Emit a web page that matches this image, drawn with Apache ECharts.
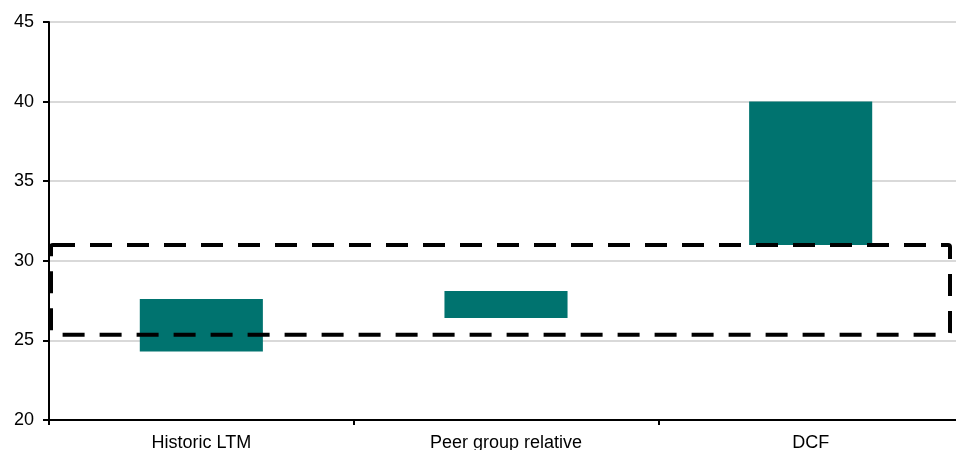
<!DOCTYPE html>
<html>
<head>
<meta charset="utf-8">
<script src="https://cdn.jsdelivr.net/npm/echarts@6/dist/echarts.min.js"></script>
<style>
  html, body { margin: 0; padding: 0; background: #ffffff; }
  #chart { width: 956px; height: 450px; }
</style>
</head>
<body>
<div id="chart"></div>
<script>
// Valuation methods and their implied ranges
const categories = ['Historic LTM', 'Peer group relative', 'DCF'];
const rangeLow = [24.3, 26.4, 31.0];
const rangeHigh = [27.6, 28.1, 40.0];
// Target range shown as the dashed box
const targetLow = 25.35;
const targetHigh = 31.0;
const yTicks = [20, 25, 30, 35, 40, 45];

const barColor = '#00736f';
const rangeSize = rangeHigh.map((h, i) => +(h - rangeLow[i]).toFixed(3));
const labelFont = 'Liberation Sans, Arial, sans-serif';

const chart = echarts.init(document.getElementById('chart'), null, { renderer: 'canvas' });

chart.setOption({
  animation: false,
  backgroundColor: '#ffffff',
  grid: { left: 49, top: 22, bottom: 30, right: -7, containLabel: false, outerBoundsMode: 'none' },
  xAxis: {
    type: 'category',
    data: categories,
    boundaryGap: true,
    axisLine: { lineStyle: { color: '#000000', width: 2 } },
    axisTick: { show: true, length: 5, lineStyle: { color: '#000000', width: 2 } },
    axisLabel: { color: '#000000', fontFamily: labelFont, fontSize: 18, margin: 14 },
    splitLine: { show: false }
  },
  yAxis: {
    type: 'value',
    min: yTicks[0],
    max: yTicks[yTicks.length - 1],
    interval: 5,
    axisLine: { show: true, lineStyle: { color: '#000000', width: 2 } },
    axisTick: { show: true, length: 6, lineStyle: { color: '#000000', width: 2 } },
    axisLabel: { color: '#000000', fontFamily: labelFont, fontSize: 18, margin: 15 },
    splitLine: { show: true, lineStyle: { color: '#d9d9d9', width: 2 } }
  },
  series: [
    {
      name: 'base',
      type: 'bar',
      stack: 'range',
      data: rangeLow,
      barWidth: '40.4%',
      itemStyle: { color: 'transparent' },
      silent: true
    },
    {
      name: 'range',
      type: 'bar',
      stack: 'range',
      data: rangeSize,
      barWidth: '40.4%',
      itemStyle: { color: barColor }
    },
    {
      name: 'target',
      type: 'custom',
      z: 10,
      data: [[0, targetLow, targetHigh]],
      encode: { x: 0, y: [1, 2] },
      renderItem: function (params, api) {
        const cs = params.coordSys;
        const yTop = api.coord([0, api.value(2)])[1];
        const yBot = api.coord([0, api.value(1)])[1];
        const x0 = cs.x + 2;
        const x1 = 950;
        return {
          type: 'rect',
          shape: { x: x0, y: yTop, width: x1 - x0, height: yBot - yTop, r: 2 },
          style: {
            fill: 'none',
            stroke: '#000000',
            lineWidth: 4,
            lineDash: [22, 15]
          }
        };
      }
    }
  ]
});
</script>
</body>
</html>
